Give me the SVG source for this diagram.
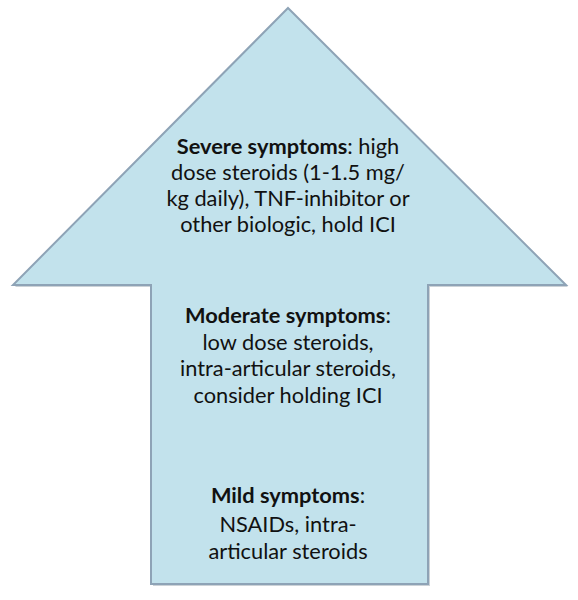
<svg xmlns="http://www.w3.org/2000/svg" width="578" height="600" viewBox="0 0 578 600">
<style>
.t{font-family:Lato,"Open Sans","Liberation Sans",sans-serif;font-size:21.8px;fill:#111;text-anchor:middle}
.b{font-weight:bold}
</style>
<rect width="578" height="600" fill="#fff"/>
<g id="arrow">
<polygon points="290,10 568,287 430,287 430,586 153,586 153,287 15,287" fill="#9aa6b0" opacity="0.5"/>
<polygon points="288,8 566,285 428,285 428,584 151,584 151,285 13,285" fill="#c2e2ec" stroke="#8ea3b6" stroke-width="2" stroke-linejoin="miter"/>
</g>
<g id="severe">
<text class="t" x="288" y="154"><tspan class="b">Severe symptoms</tspan>: high</text>
<text class="t" x="288" y="180">dose steroids (1-1.5 mg/</text>
<text class="t" x="288" y="206">kg daily), TNF-inhibitor or</text>
<text class="t" x="288" y="232">other biologic, hold ICI</text>
</g>
<g id="moderate">
<text class="t" x="288" y="323"><tspan class="b">Moderate symptoms</tspan>:</text>
<text class="t" x="288" y="350">low dose steroids,</text>
<text class="t" x="288" y="376">intra-articular steroids,</text>
<text class="t" x="288" y="403">consider holding ICI</text>
</g>
<g id="mild">
<text class="t" x="288" y="503"><tspan class="b">Mild symptoms</tspan>:</text>
<text class="t" x="288" y="532">NSAIDs, intra-</text>
<text class="t" x="288" y="559">articular steroids</text>
</g>
</svg>
